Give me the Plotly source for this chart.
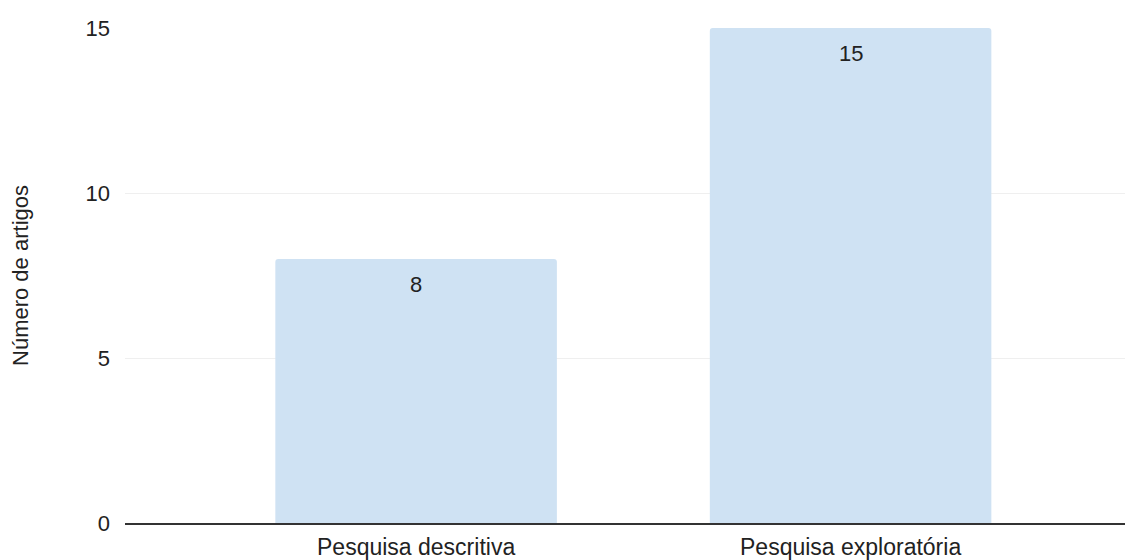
import plotly.graph_objects as go

categories = ["Pesquisa descritiva", "Pesquisa exploratória"]
values = [8, 15]
y_ticks = [0, 5, 10, 15]

FONT = "Liberation Sans, Arial, sans-serif"

fig = go.Figure()
fig.add_trace(go.Bar(
    x=categories, y=values, width=0.648,
    marker=dict(color="#cfe2f3", line=dict(width=0), cornerradius=3),
    hoverinfo="skip",
))
for c, v in zip(categories, values):
    fig.add_annotation(x=c, y=v, text=str(v), showarrow=False, yshift=-25,
                       font=dict(family=FONT, size=22, color="#222222"))

fig.update_layout(
    width=1133, height=560,
    margin=dict(l=117, r=8, t=17, b=45),
    plot_bgcolor="white", paper_bgcolor="white",
    showlegend=False,
    font=dict(family=FONT, size=22, color="#222222"),
)
fig.update_xaxes(
    range=[-0.67, 1.65], showgrid=False, showline=True, linecolor="#333333", linewidth=1.5,
    ticks="", tickfont=dict(family=FONT, size=23, color="#222222"), ticklabelstandoff=3,
)
fig.update_yaxes(
    range=[0, 15], tickvals=y_ticks, showgrid=True, gridcolor="#efefef", gridwidth=1,
    zeroline=False, showline=False, ticks="", tickfont=dict(family=FONT, size=22, color="#222222"),
    ticklabelstandoff=14,
    title=dict(text="Número de artigos", font=dict(family=FONT, size=22, color="#222222"), standoff=50),
)
fig.write_html("out.html")
